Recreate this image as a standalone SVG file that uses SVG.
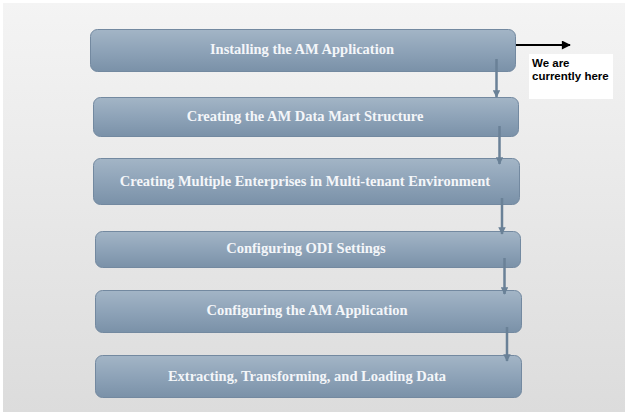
<svg xmlns="http://www.w3.org/2000/svg" width="628" height="415" viewBox="0 0 628 415">
<defs>
<linearGradient id="bg" x1="0" y1="0" x2="0" y2="1">
<stop offset="0" stop-color="#f4f4f4"/>
<stop offset="1" stop-color="#dcdcdc"/>
</linearGradient>
<linearGradient id="box" x1="0" y1="0" x2="0" y2="1">
<stop offset="0" stop-color="#a3b5c6"/>
<stop offset="0.5" stop-color="#8ea3b8"/>
<stop offset="1" stop-color="#7a91a8"/>
</linearGradient>
<marker id="ah" viewBox="0 0 10 10" refX="9" refY="5" markerWidth="3.2" markerHeight="3" orient="auto">
<path d="M0,0 L10,5 L0,10 z" fill="#6a8197"/>
</marker>
<marker id="bh" viewBox="0 0 10 10" refX="9" refY="5" markerWidth="8" markerHeight="5" orient="auto">
<path d="M0,0 L10,5 L0,10 z" fill="#000"/>
</marker>
</defs>
<style>
.b{fill:url(#box);stroke:#7389a0;stroke-width:1}
.t{font-family:"Liberation Serif","DejaVu Serif",serif;font-weight:bold;font-size:14.5px;fill:#f4f6f9;text-anchor:middle}
.c{stroke:#6a8197;stroke-width:2.5;fill:none}
.n{font-family:"Liberation Sans",Arial,sans-serif;font-weight:bold;font-size:11.5px;fill:#000}
</style>
<rect x="0" y="0" width="628" height="415" fill="#ffffff"/>
<rect x="3" y="3" width="622" height="409" fill="url(#bg)"/>
<g id="n1"><rect class="b" x="90.5" y="29.5" width="425" height="42" rx="7"/><text class="t" x="302" y="54">Installing the AM Application</text></g>
<g id="n2"><rect class="b" x="93.5" y="97.5" width="425" height="39" rx="7"/><text class="t" x="305" y="121">Creating the AM Data Mart Structure</text></g>
<g id="n3"><rect class="b" x="93.5" y="158.5" width="426" height="46" rx="7"/><text class="t" x="305" y="186">Creating Multiple Enterprises in Multi-tenant Environment</text></g>
<g id="n4"><rect class="b" x="95.5" y="231.5" width="425" height="36" rx="7"/><text class="t" x="306" y="253">Configuring ODI Settings</text></g>
<g id="n5"><rect class="b" x="95.5" y="290.5" width="426" height="42" rx="7"/><text class="t" x="307" y="315">Configuring the AM Application</text></g>
<g id="n6"><rect class="b" x="95.5" y="355.5" width="426" height="42" rx="7"/><text class="t" x="307" y="381">Extracting, Transforming, and Loading Data</text></g>
<g id="note"><rect x="529" y="54" width="84" height="45" fill="#ffffff"/><text class="n" x="532" y="67">We are</text><text class="n" x="532" y="80">currently here</text></g>
<g id="connectors">
<line class="c" x1="496.5" y1="59" x2="496.5" y2="97" marker-end="url(#ah)"/>
<line class="c" x1="499.5" y1="126" x2="499.5" y2="164" marker-end="url(#ah)"/>
<line class="c" x1="502" y1="198" x2="502" y2="234" marker-end="url(#ah)"/>
<line class="c" x1="504.5" y1="258" x2="504.5" y2="294" marker-end="url(#ah)"/>
<line class="c" x1="507" y1="327" x2="507" y2="361" marker-end="url(#ah)"/>
<line x1="516" y1="45" x2="570" y2="45" stroke="#000" stroke-width="1.8" marker-end="url(#bh)"/>
</g>
</svg>
